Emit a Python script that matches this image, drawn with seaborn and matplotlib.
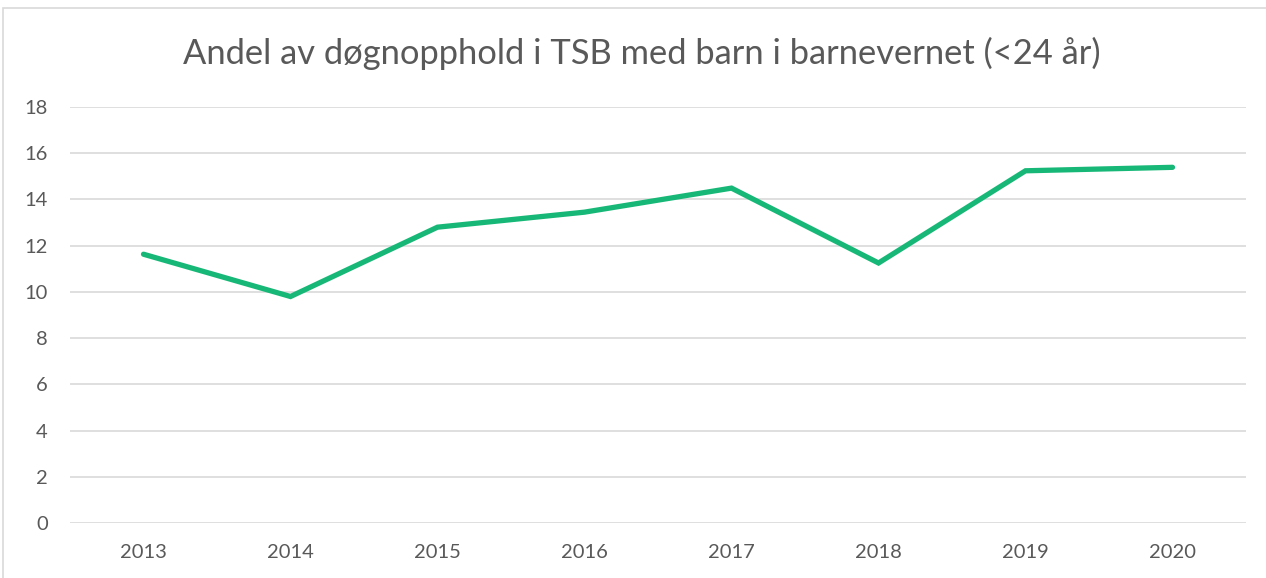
import matplotlib
matplotlib.use("Agg")
import matplotlib.pyplot as plt
import seaborn as sns
import pandas as pd
from matplotlib.patches import Rectangle

years = ["2013", "2014", "2015", "2016", "2017", "2018", "2019", "2020"]
values = [11.63, 9.80, 12.80, 13.45, 14.49, 11.25, 15.24, 15.39]
yticks = [0, 2, 4, 6, 8, 10, 12, 14, 16, 18]
title = "Andel av døgnopphold i TSB med barn i barnevernet (<24 år)"

sns.set_theme(style="white")
plt.rcParams["font.family"] = ["Lato", "DejaVu Sans"]

df = pd.DataFrame({"pos": range(len(years)), "year": years, "value": values})

fig = plt.figure(figsize=(12.66, 5.78), dpi=100)
ax = fig.add_axes([70 / 1266, 1 - 523 / 578, (1246 - 70) / 1266, (523 - 107) / 578])

sns.lineplot(data=df, x="pos", y="value", ax=ax, color="#17B877", linewidth=3.8,
             solid_capstyle="round", solid_joinstyle="miter")

ax.set_xlim(-0.5, len(years) - 0.5)
ax.set_ylim(0, 18)
ax.set_yticks(yticks)
ax.set_yticklabels([str(v) for v in yticks])
ax.set_xticks(range(len(years)))
ax.set_xticklabels(years)
ax.set_xlabel("")
ax.set_ylabel("")
ax.grid(axis="y", color="#D9D9D9", linewidth=1.2)
ax.set_axisbelow(True)
for s in ax.spines.values():
    s.set_visible(False)
ax.tick_params(axis="both", length=0, labelsize=14.5, colors="#595959")
ax.tick_params(axis="y", pad=16)
ax.tick_params(axis="x", pad=15)

fig.text(641.5 / 1266, 1 - 53 / 578, title, ha="center", va="center", fontsize=24.8, color="#595959")

fig.patches.append(Rectangle((3 / 1266, -0.01), 1.02, 1 - 8 / 578 + 0.01, transform=fig.transFigure,
                             fill=False, edgecolor="#D9D9D9", linewidth=1.2))

fig.savefig("out.png", dpi=100)
